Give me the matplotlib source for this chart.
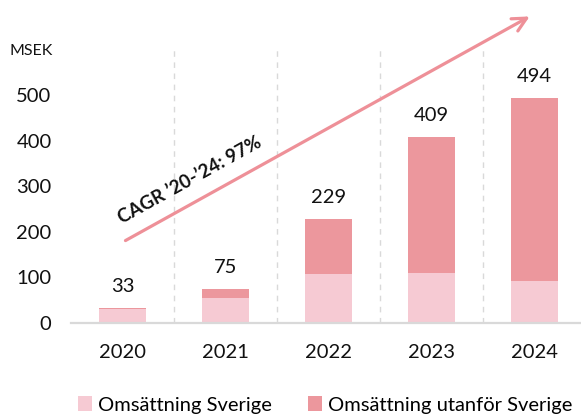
import matplotlib
matplotlib.use("Agg")
import matplotlib.pyplot as plt
from matplotlib.patches import Patch

plt.rcParams['font.family'] = ['Lato', 'DejaVu Sans']

years = ["2020", "2021", "2022", "2023", "2024"]
sverige = [31, 55, 107, 110, 92]
utanfor = [2, 20, 122, 299, 402]
totals = [33, 75, 229, 409, 494]
yticks = [0, 100, 200, 300, 400, 500]
cagr_label = "CAGR \u201920-\u201924: 97%"
legend_labels = ["Omsättning Sverige", "Omsättning utanför Sverige"]
unit_label = "MSEK"

c_light = "#F6CAD3"
c_dark = "#EC979D"
c_arrow = "#EE9098"

W, H = 581, 419
fig = plt.figure(figsize=(W / 100, H / 100), dpi=100)
ax_left, ax_right, ax_top, ax_bot = 71, 581, 48, 323
ax = fig.add_axes([ax_left / W, (H - ax_bot) / H, (ax_right - ax_left) / W, (ax_bot - ax_top) / H])

x = list(range(len(years)))
ax.bar(x, sverige, width=0.455, color=c_light, zorder=2)
ax.bar(x, utanfor, width=0.455, bottom=sverige, color=c_dark, zorder=2)

for xi, t in zip(x, totals):
    ax.annotate(str(t), (xi, t), xytext=(0, 21), textcoords='offset pixels',
                ha='center', va='center', fontsize=14.5, color='#111111')

for xi in x[:-1]:
    ax.axvline(xi + 0.5, color='#D9D9D9', lw=1.0, ls=(0, (4, 4)), zorder=1)

ax.set_xlim(-0.5, 4.45)
ax.set_ylim(0, 603.7)
ax.set_xticks(x)
ax.set_xticklabels(years, fontsize=14.5)
ax.set_yticks(yticks)
ax.set_yticklabels([str(v) for v in yticks], fontsize=14.5)
ax.tick_params(axis='both', length=0, colors='#111111')
ax.tick_params(axis='x', pad=15)
ax.tick_params(axis='y', pad=14)
for s in ['top', 'right', 'left']:
    ax.spines[s].set_visible(False)
ax.spines['bottom'].set_color('#D9D9D9')
ax.spines['bottom'].set_linewidth(1.6)

fig.text(10 / W, 1 - 51 / H, unit_label, fontsize=11.5, va='center', ha='left', color='#111111')

# growth arrow
ax.annotate("", xy=(3.976, 676), xytext=(0.005, 178),
            arrowprops=dict(arrowstyle='->,head_length=1.0,head_width=0.5', color=c_arrow, lw=2.3),
            annotation_clip=False)
ax.text(0.655, 314, cagr_label, rotation=29, rotation_mode='anchor', ha='center', va='center',
        fontsize=13.5, fontweight='bold', color='#111111')

handles = [Patch(facecolor=c_light), Patch(facecolor=c_dark)]
fig.legend(handles, legend_labels, loc='center', bbox_to_anchor=(325 / W, 1 - 405 / H),
           ncol=2, frameon=False, fontsize=14.5, handlelength=0.7, handleheight=0.7,
           handletextpad=0.3, columnspacing=1.8)

fig.savefig("out.png", dpi=100)
